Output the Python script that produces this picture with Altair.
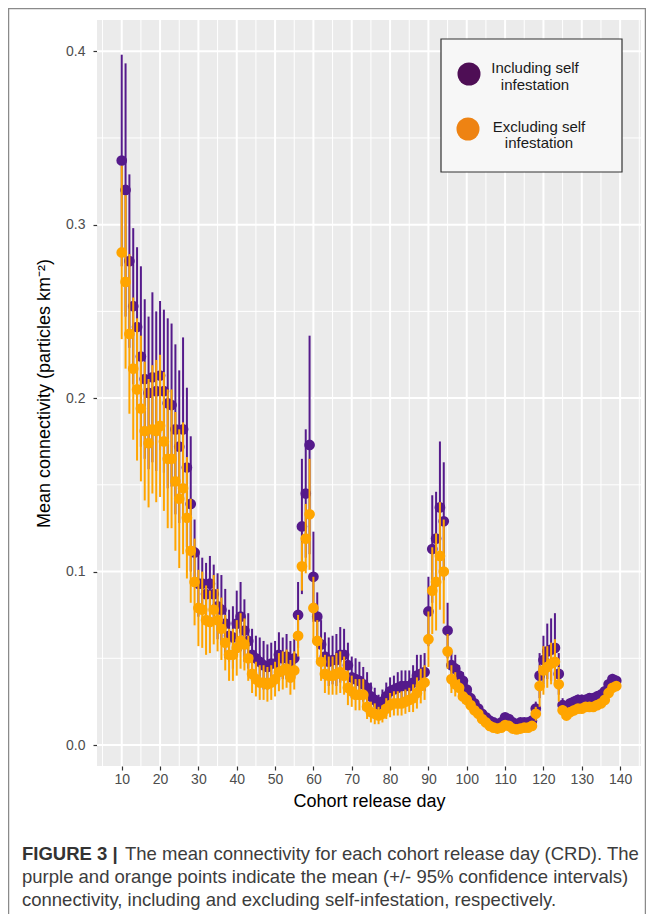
import altair as alt
import pandas as pd

# ---------------- data ----------------
days = list(range(10, 140))

inc_mean = [
    0.337, 0.320, 0.279, 0.253, 0.241, 0.224, 0.211, 0.203, 0.212, 0.204,
    0.213, 0.204, 0.197, 0.196, 0.182, 0.172, 0.182, 0.160, 0.139, 0.111,
    0.093, 0.093, 0.087, 0.093, 0.087, 0.080, 0.078, 0.070, 0.063, 0.062,
    0.070, 0.074, 0.066, 0.060, 0.052, 0.050, 0.048, 0.046, 0.045, 0.047,
    0.047, 0.052, 0.050, 0.051, 0.048, 0.050, 0.075, 0.126, 0.145, 0.173,
    0.097, 0.074, 0.058, 0.051, 0.048, 0.049, 0.049, 0.052, 0.052, 0.046,
    0.039, 0.038, 0.037, 0.035, 0.033, 0.028, 0.026, 0.023, 0.025, 0.028,
    0.031, 0.032, 0.033, 0.034, 0.034, 0.034, 0.036, 0.040, 0.041, 0.042,
    0.077, 0.113, 0.119, 0.137, 0.129, 0.066, 0.046, 0.044, 0.040, 0.037,
    0.032, 0.027, 0.024, 0.021, 0.018, 0.016, 0.014, 0.013, 0.012, 0.013,
    0.016, 0.015, 0.013, 0.012, 0.013, 0.013, 0.013, 0.014, 0.021, 0.040,
    0.049, 0.054, 0.055, 0.056, 0.041, 0.023, 0.022, 0.024, 0.025, 0.026,
    0.026, 0.026, 0.027, 0.027, 0.028, 0.029, 0.031, 0.035, 0.038, 0.037,
]
inc_err = [
    0.061, 0.073, 0.050, 0.045, 0.046, 0.052, 0.046, 0.044, 0.049, 0.046,
    0.043, 0.047, 0.049, 0.047, 0.049, 0.044, 0.053, 0.046, 0.039, 0.019,
    0.019, 0.015, 0.018, 0.016, 0.017, 0.019, 0.020, 0.020, 0.015, 0.018,
    0.019, 0.020, 0.018, 0.016, 0.015, 0.013, 0.014, 0.014, 0.013, 0.012,
    0.013, 0.013, 0.012, 0.013, 0.012, 0.011, 0.019, 0.039, 0.037, 0.063,
    0.026, 0.014, 0.014, 0.014, 0.014, 0.014, 0.015, 0.016, 0.015, 0.013,
    0.012, 0.012, 0.011, 0.010, 0.009, 0.008, 0.007, 0.006, 0.007, 0.008,
    0.008, 0.008, 0.009, 0.009, 0.009, 0.009, 0.010, 0.012, 0.011, 0.011,
    0.020, 0.031, 0.027, 0.038, 0.034, 0.016, 0.008, 0.008, 0.006, 0.005,
    0.004, 0.004, 0.003, 0.003, 0.003, 0.002, 0.002, 0.002, 0.002, 0.002,
    0.002, 0.002, 0.002, 0.002, 0.002, 0.002, 0.002, 0.002, 0.004, 0.013,
    0.014, 0.016, 0.018, 0.020, 0.012, 0.004, 0.003, 0.003, 0.003, 0.003,
    0.003, 0.003, 0.003, 0.003, 0.003, 0.003, 0.003, 0.003, 0.003, 0.003,
]
exc_mean = [
    0.284, 0.267, 0.237, 0.217, 0.205, 0.194, 0.181, 0.174, 0.182, 0.181,
    0.184, 0.175, 0.165, 0.165, 0.152, 0.142, 0.148, 0.131, 0.112, 0.094,
    0.079, 0.078, 0.072, 0.071, 0.078, 0.072, 0.067, 0.059, 0.052, 0.052,
    0.056, 0.060, 0.058, 0.050, 0.041, 0.038, 0.036, 0.036, 0.035, 0.036,
    0.038, 0.042, 0.043, 0.044, 0.039, 0.043, 0.063, 0.103, 0.119, 0.133,
    0.079, 0.060, 0.048, 0.041, 0.040, 0.040, 0.041, 0.042, 0.040, 0.033,
    0.031, 0.029, 0.029, 0.029, 0.022, 0.019, 0.018, 0.017, 0.018, 0.021,
    0.023, 0.024, 0.024, 0.024, 0.025, 0.026, 0.027, 0.030, 0.034, 0.036,
    0.061, 0.089, 0.094, 0.109, 0.100, 0.054, 0.038, 0.035, 0.033, 0.028,
    0.026, 0.023, 0.020, 0.018, 0.015, 0.013, 0.011, 0.010, 0.0095, 0.010,
    0.0115, 0.011, 0.0095, 0.009, 0.0095, 0.010, 0.010, 0.011, 0.018, 0.034,
    0.043, 0.045, 0.047, 0.048, 0.035, 0.020, 0.017, 0.019, 0.020, 0.021,
    0.021, 0.022, 0.022, 0.022, 0.023, 0.024, 0.026, 0.030, 0.033, 0.034,
]
exc_err = [
    0.050, 0.050, 0.046, 0.041, 0.041, 0.042, 0.040, 0.037, 0.037, 0.041,
    0.041, 0.040, 0.040, 0.040, 0.040, 0.040, 0.038, 0.035, 0.030, 0.025,
    0.022, 0.022, 0.020, 0.018, 0.020, 0.018, 0.018, 0.016, 0.015, 0.015,
    0.016, 0.016, 0.015, 0.013, 0.011, 0.010, 0.010, 0.010, 0.010, 0.010,
    0.010, 0.011, 0.011, 0.011, 0.010, 0.011, 0.012, 0.014, 0.020, 0.032,
    0.018, 0.012, 0.011, 0.011, 0.011, 0.011, 0.012, 0.012, 0.011, 0.010,
    0.009, 0.009, 0.009, 0.009, 0.007, 0.006, 0.006, 0.005, 0.005, 0.006,
    0.007, 0.007, 0.007, 0.007, 0.007, 0.007, 0.008, 0.009, 0.010, 0.010,
    0.016, 0.025, 0.028, 0.031, 0.030, 0.010, 0.008, 0.007, 0.005, 0.004,
    0.003, 0.002, 0.002, 0.002, 0.002, 0.002, 0.002, 0.002, 0.002, 0.002,
    0.002, 0.002, 0.002, 0.002, 0.002, 0.002, 0.002, 0.002, 0.004, 0.012,
    0.014, 0.012, 0.012, 0.013, 0.010, 0.003, 0.002, 0.002, 0.002, 0.002,
    0.002, 0.002, 0.002, 0.002, 0.002, 0.002, 0.002, 0.002, 0.002, 0.002,
]

x_major = [10, 20, 30, 40, 50, 60, 70, 80, 90, 100, 110, 120, 130, 140]
x_minor = [5, 15, 25, 35, 45, 55, 65, 75, 85, 95, 105, 115, 125, 135, 145]
y_major = [0.0, 0.1, 0.2, 0.3, 0.4]
y_minor = [0.05, 0.15, 0.25, 0.35]

legend_labels = ["Including self", "infestation", "Excluding self", "infestation"]
caption_bold = "FIGURE 3 |"
caption_lines = [
    "The mean connectivity for each cohort release day (CRD). The",
    "purple and orange points indicate the mean (+/- 95% confidence intervals)",
    "connectivity, including and excluding self-infestation, respectively.",
]

# ---------------- styling ----------------
PURPLE = "#551A8B"
ORANGE = "#FFA500"
LEG_PURPLE = "#4E0E55"
LEG_ORANGE = "#EE8313"
FONT = "Liberation Sans"
X_TITLE = "Cohort release day"
Y_TITLE = "Mean connectivity (particles km\u207b\u00b2)"

df = pd.DataFrame({"day": days, "inc": inc_mean, "inc_e": inc_err,
                   "exc": exc_mean, "exc_e": exc_err})
df["inc_lo"] = df["inc"] - df["inc_e"]
df["inc_hi"] = df["inc"] + df["inc_e"]
df["exc_lo"] = df["exc"] - df["exc_e"]
df["exc_hi"] = df["exc"] + df["exc_e"]

xs = alt.Scale(domain=[3.55, 145.45], nice=False, zero=False)
ys = alt.Scale(domain=[-0.0121, 0.418], nice=False, zero=False)

x_axis = alt.Axis(values=x_major, format="d", grid=False, domain=False,
                  tickColor="#333333", tickSize=4, tickWidth=1.2,
                  labelColor="#4D4D4D", labelFontSize=14, labelFont=FONT,
                  labelPadding=2, labelFlush=False,
                  title=X_TITLE, titleFont=FONT, titleFontSize=18,
                  titleFontWeight="normal", titleColor="#000000", titlePadding=6)
y_axis = alt.Axis(values=y_major, format=".1f", grid=False, domain=False,
                  tickColor="#333333", tickSize=4, tickWidth=1.2,
                  labelColor="#4D4D4D", labelFontSize=14, labelFont=FONT,
                  labelPadding=8, labelFlush=False,
                  title=Y_TITLE, titleFont=FONT,
                  titleFontSize=18, titleFontWeight="normal", titleColor="#000000",
                  titlePadding=12)


def X(field):
    return alt.X(field, scale=xs, axis=x_axis, title=X_TITLE)


def Y(field):
    return alt.Y(field, scale=ys, axis=y_axis, title=Y_TITLE)


grid_xmin = alt.Chart(pd.DataFrame({"v": x_minor})).mark_rule(
    color="white", strokeWidth=1).encode(x=X("v:Q"))
grid_xmaj = alt.Chart(pd.DataFrame({"v": x_major})).mark_rule(
    color="white", strokeWidth=2).encode(x=X("v:Q"))
grid_ymin = alt.Chart(pd.DataFrame({"v": y_minor})).mark_rule(
    color="white", strokeWidth=1).encode(y=Y("v:Q"))
grid_ymaj = alt.Chart(pd.DataFrame({"v": y_major})).mark_rule(
    color="white", strokeWidth=2).encode(y=Y("v:Q"))

base = alt.Chart(df)
inc_bars = base.mark_rule(color=PURPLE, strokeWidth=2).encode(
    x=X("day:Q"), y=Y("inc_lo:Q"), y2="inc_hi:Q")
inc_pts = base.mark_circle(color=PURPLE, size=115, opacity=1).encode(
    x=X("day:Q"), y=Y("inc:Q"))
exc_bars = base.mark_rule(color=ORANGE, strokeWidth=2).encode(
    x=X("day:Q"), y=Y("exc_lo:Q"), y2="exc_hi:Q")
exc_pts = base.mark_circle(color=ORANGE, size=115, opacity=1).encode(
    x=X("day:Q"), y=Y("exc:Q"))

one = pd.DataFrame({"k": [0]})

leg_box = alt.Chart(one).mark_rect(fill="#F7F7F7", stroke="#333333", strokeWidth=1.2).encode(
    x=alt.value(344), x2=alt.value(525), y=alt.value(19), y2=alt.value(152))
leg_c1 = alt.Chart(one).mark_circle(color=LEG_PURPLE, size=530, opacity=1).encode(
    x=alt.value(372), y=alt.value(54))
leg_c2 = alt.Chart(one).mark_circle(color=LEG_ORANGE, size=530, opacity=1).encode(
    x=alt.value(371), y=alt.value(109))


def txt(s, x, y, size=15, align="center", weight="normal", color="#1A1A1A"):
    return alt.Chart(one).mark_text(text=s, align=align, baseline="middle", font=FONT,
                                    fontSize=size, fontWeight=weight, color=color).encode(
        x=alt.value(x), y=alt.value(y))


leg_t = [txt(legend_labels[0], 438, 48), txt(legend_labels[1], 438, 65),
         txt(legend_labels[2], 442, 107), txt(legend_labels[3], 442, 123)]

CAP = "#3C3C3C"
CS = 18.5
cap = [txt(caption_bold, -75, 834, size=CS, align="left", weight="bold", color="#333333"),
       txt(caption_lines[0], 28, 834, size=CS, align="left", color=CAP),
       txt(caption_lines[1], -75, 857, size=CS, align="left", color=CAP),
       txt(caption_lines[2], -75, 880, size=CS, align="left", color=CAP)]

frame = alt.Chart(one).mark_rect(fillOpacity=0, stroke="#8A8A8A", strokeWidth=1.5).encode(
    x=alt.value(-88.5), x2=alt.value(548.5), y=alt.value(-11.5), y2=alt.value(1000))

chart = alt.layer(
    grid_xmin, grid_ymin, grid_xmaj, grid_ymaj,
    inc_bars, inc_pts, exc_bars, exc_pts,
    leg_box, leg_c1, leg_c2, *leg_t, *cap, frame,
).properties(
    width=544, height=746,
    padding={"left": 89, "top": 12, "right": 5, "bottom": 148},
    autosize=alt.AutoSizeParams(type="none"),
    background="white",
).configure_view(fill="#EBEBEB", stroke=None)

chart.save("out.html", embed_options={"renderer": "svg", "actions": False})
